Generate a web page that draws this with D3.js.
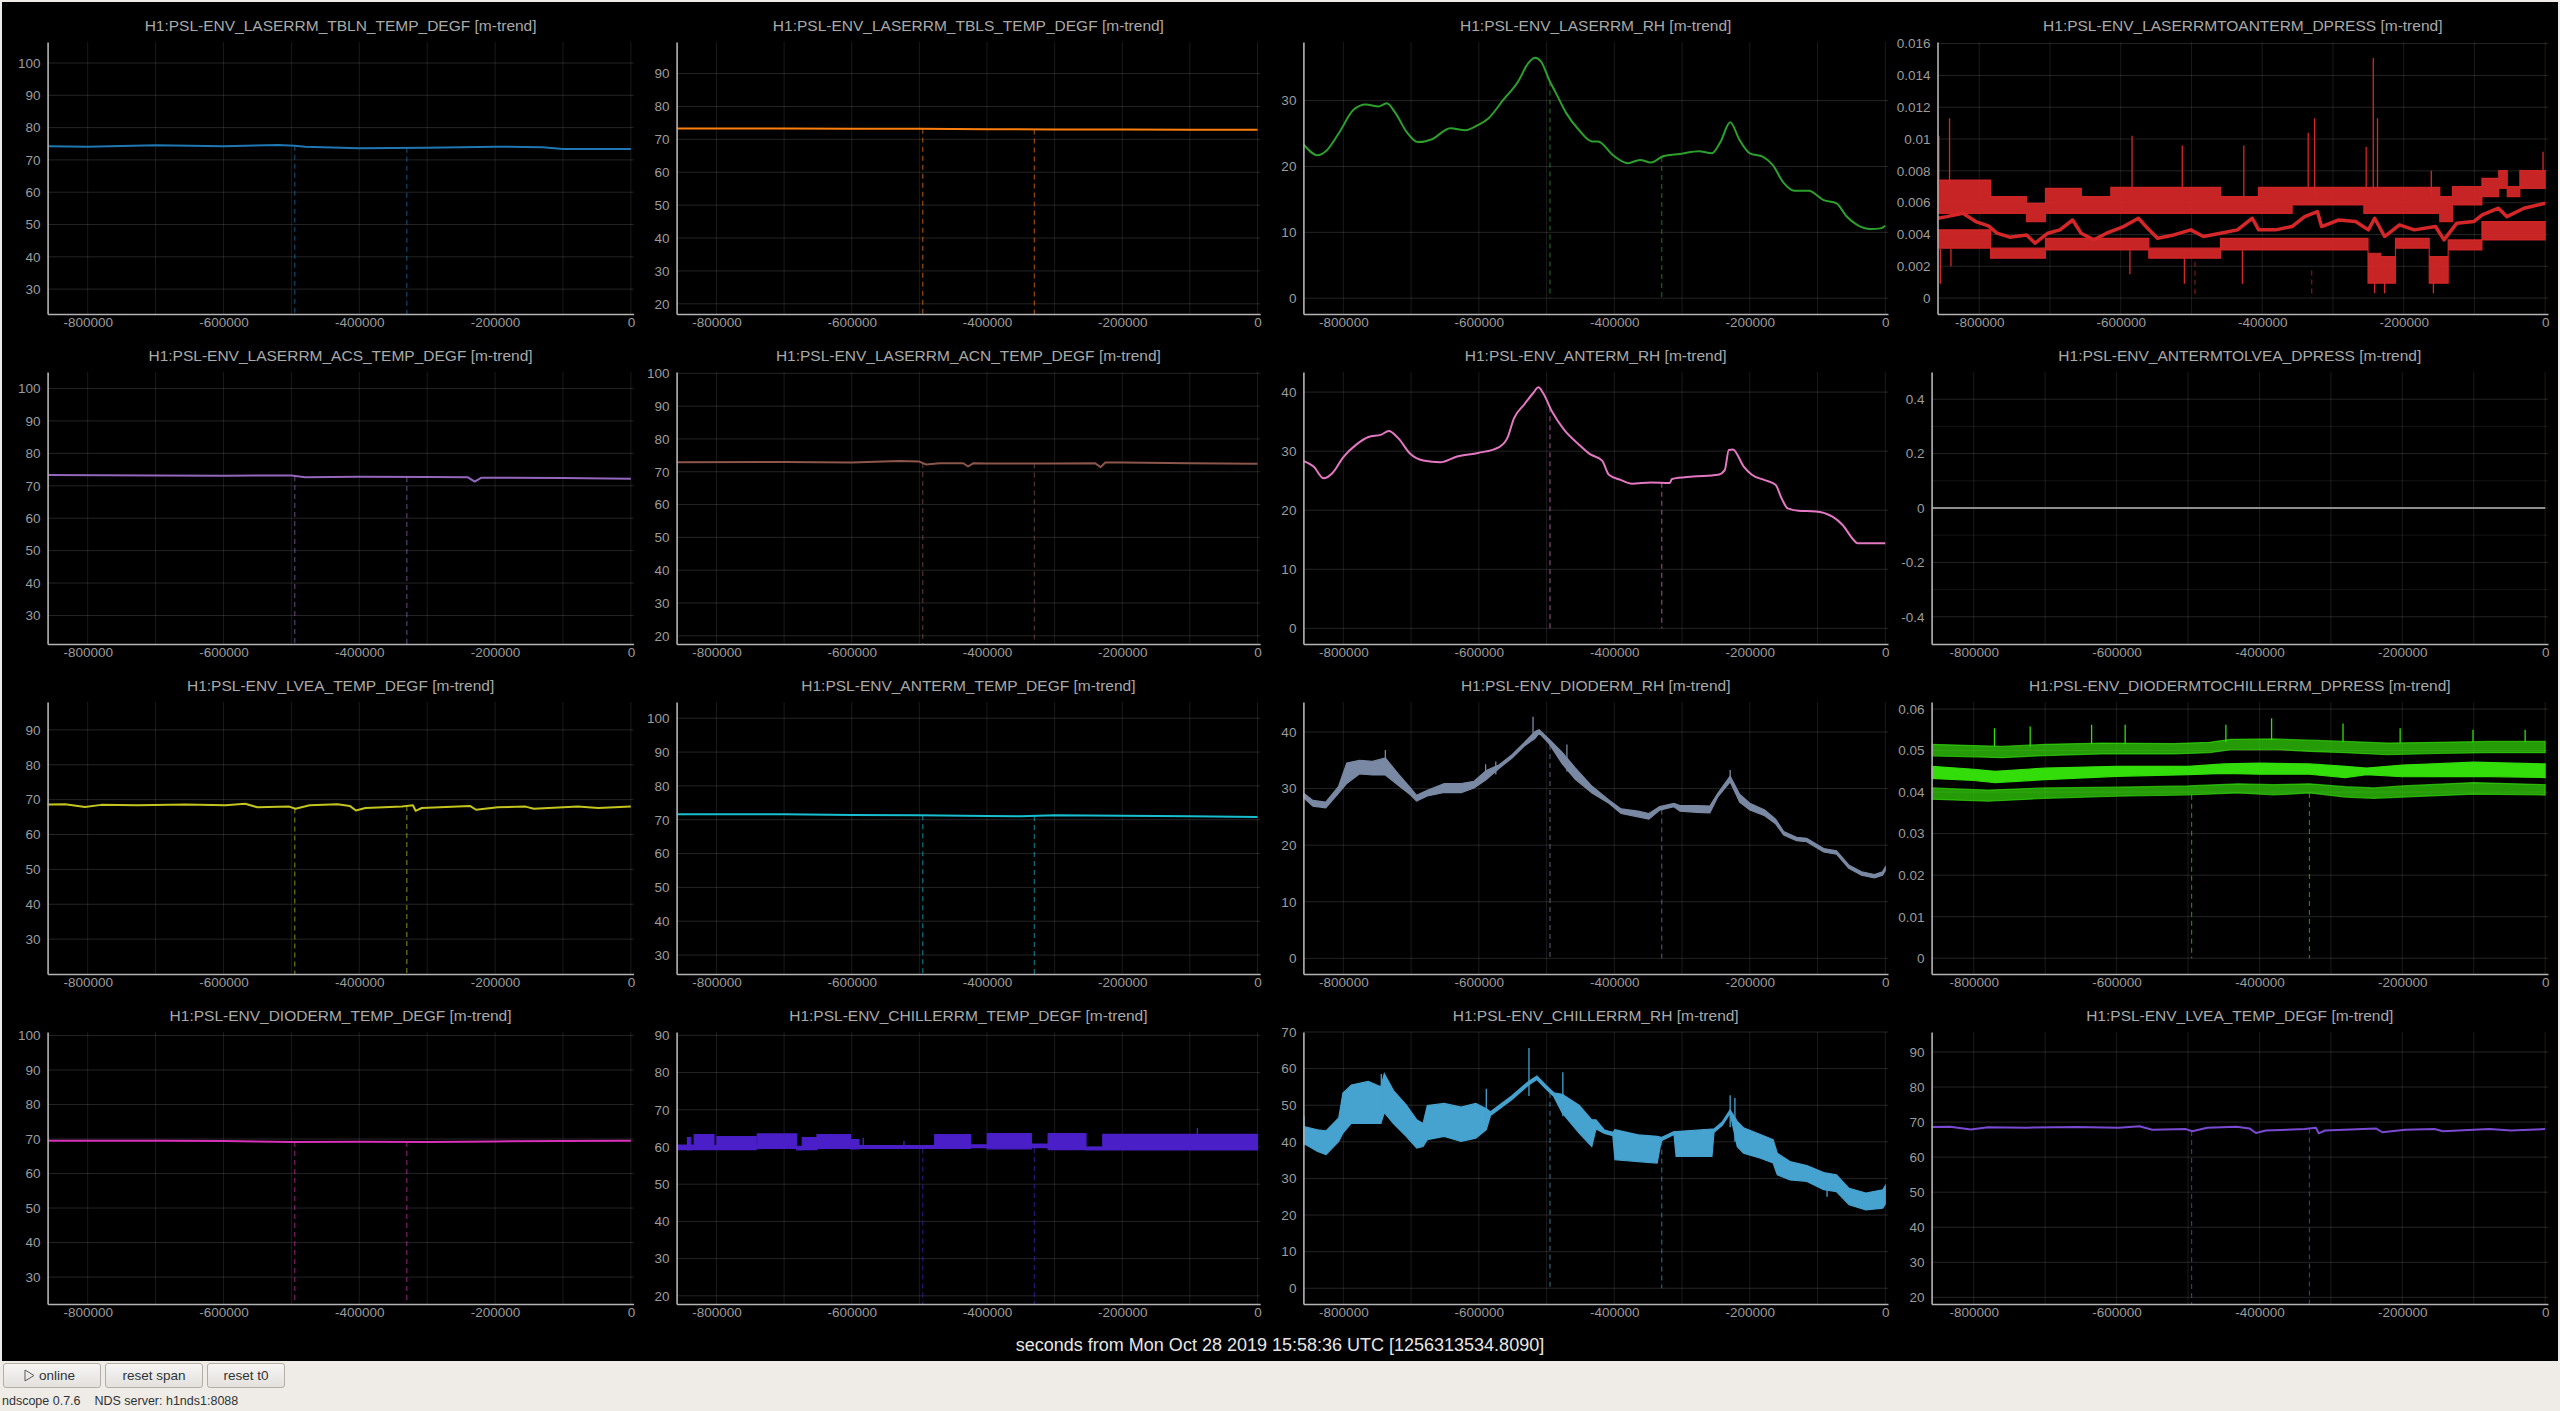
<!DOCTYPE html>
<html><head><meta charset="utf-8">
<script src="https://cdn.jsdelivr.net/npm/d3@7"></script>
<style>
html,body{margin:0;padding:0;background:#efebe7;overflow:hidden}
svg{display:block}
text{font-family:"Liberation Sans","DejaVu Sans",sans-serif}
</style></head><body>
<svg id="c" width="2560" height="1411"></svg>
<script>
// ---------------- DATA ----------------
const xDomain = [-859000, 4000];
const xTicks = [-800000, -600000, -400000, -200000, 0];
const xGridTicks = [-800000, -700000, -600000, -500000, -400000, -300000, -200000, -100000, 0];
const gapTimes = [-495000, -330000];
const axisLabel = "seconds from Mon Oct 28 2019 15:58:36 UTC [1256313534.8090]";

const ticks30to100 = [30, 40, 50, 60, 70, 80, 90, 100];
const ticks20to90 = [20, 30, 40, 50, 60, 70, 80, 90];
const ticks20to100 = [20, 30, 40, 50, 60, 70, 80, 90, 100];
const ticks30to90 = [30, 40, 50, 60, 70, 80, 90];
const ticks0to30 = [0, 10, 20, 30];
const ticks0to40 = [0, 10, 20, 30, 40];
const ticks0to70 = [0, 10, 20, 30, 40, 50, 60, 70];
const ticksRedDp = [0, 0.002, 0.004, 0.006, 0.008, 0.01, 0.012, 0.014, 0.016];
const ticksGreenDp = [0, 0.01, 0.02, 0.03, 0.04, 0.05, 0.06];
const ticksZero = [-0.4, -0.2, 0, 0.2, 0.4];
const ticksZeroMinor = [-0.3, -0.1, 0.1, 0.3];

// [t, value]
const tblnTemp = [[-859000,74.2],[-800000,74.1],[-700000,74.5],[-600000,74.2],[-520000,74.6],[-495000,74.4],[-480000,74.1],[-400000,73.6],[-300000,73.8],[-200000,74.1],[-130000,73.9],[-100000,73.4],[-50000,73.4],[0,73.4]];
const tblsTemp = [[-859000,73.3],[-700000,73.3],[-600000,73.2],[-500000,73.2],[-400000,73.1],[-300000,73.0],[-200000,73.0],[-100000,72.9],[0,72.9]];
const laserRH = [[-860000,23.5],[-838000,21.7],[-826000,22.3],[-807000,25.0],[-785000,28.6],[-767000,29.4],[-748000,29.1],[-736000,29.6],[-723000,28.1],[-707000,25.3],[-690000,23.7],[-670000,24.1],[-642000,25.8],[-620000,25.5],[-601000,26.3],[-586000,27.3],[-564000,30.1],[-542000,32.9],[-527000,35.7],[-517000,36.5],[-508000,35.9],[-496000,33.1],[-486000,31.1],[-471000,28.1],[-452000,25.5],[-433000,23.8],[-424000,23.8],[-402000,21.7],[-380000,20.5],[-362000,21.0],[-346000,20.6],[-327000,21.6],[-303000,21.9],[-275000,22.3],[-256000,22.0],[-243000,23.8],[-229000,26.7],[-215000,24.0],[-200000,22.0],[-181000,21.5],[-166000,20.2],[-150000,17.5],[-134000,16.3],[-113000,16.3],[-91000,14.9],[-72000,14.4],[-57000,12.4],[-41000,11.1],[-22000,10.5],[-7000,10.6],[0,11.0]];
const redDpMean = [[-858400,0.00502],[-846000,0.00512],[-823000,0.00533],[-805000,0.00481],[-787000,0.00454],[-775000,0.00408],[-757000,0.00383],[-733000,0.00397],[-721000,0.00345],[-703000,0.00408],[-686000,0.00429],[-668000,0.00491],[-656000,0.00408],[-638000,0.00366],[-620000,0.00408],[-596000,0.0045],[-575000,0.00502],[-560000,0.00429],[-548000,0.00376],[-525000,0.00397],[-501000,0.00429],[-483000,0.00387],[-459000,0.00408],[-435000,0.00429],[-414000,0.00502],[-405000,0.00429],[-381000,0.00429],[-358000,0.0045],[-340000,0.00512],[-322000,0.00544],[-316000,0.0045],[-292000,0.00491],[-268000,0.00481],[-250000,0.00429],[-241000,0.00502],[-227000,0.00387],[-206000,0.0046],[-185000,0.00429],[-155000,0.0045],[-143000,0.00366],[-125000,0.00471],[-101000,0.00481],[-89000,0.00523],[-66000,0.00565],[-54000,0.00512],[-30000,0.00565],[0,0.00596]];
// [t, low, high] quantised envelopes
const redDpMax = [[-858400,0.00533,0.00742],[-783900,0.00533,0.00638],[-733200,0.00481,0.00596],[-706400,0.00533,0.0069],[-655700,0.00533,0.00638],[-614000,0.00533,0.00696],[-459000,0.00533,0.00638],[-405300,0.00533,0.00696],[-357700,0.00586,0.00696],[-256300,0.00533,0.00696],[-149000,0.00481,0.00638],[-131100,0.00586,0.00701],[-89400,0.00638,0.00753],[-65600,0.0069,0.00801],[-53600,0.00638,0.00701],[-35800,0.0069,0.00801],[0,0.0069,0.00801]];
const redDpMin = [[-858400,0.00314,0.00429],[-783900,0.00251,0.00314],[-706400,0.00303,0.00376],[-560300,0.00251,0.00314],[-459000,0.00303,0.00376],[-250400,0.00094,0.00282],[-232500,0.00094,0.00261],[-211600,0.00314,0.00376],[-163900,0.00094,0.00261],[-137100,0.00303,0.00366],[-89400,0.00366,0.00481],[0,0.00366,0.00481]];
// [t, from, to]
const redDpSpikes = [[-857000,0.0074,0.0102],[-842000,0.0072,0.0113],[-584000,0.0069,0.0102],[-513000,0.0069,0.0096],[-426000,0.0064,0.0096],[-335000,0.0069,0.0104],[-326000,0.0065,0.0113],[-253000,0.0069,0.0095],[-243000,0.0069,0.0151],[-237000,0.0069,0.0113],[-161000,0.0065,0.008],[-3000,0.008,0.0092],
  [-855000,0.0031,0.0009],[-840000,0.0031,0.002],[-587000,0.003,0.0015],[-510000,0.0025,0.0009],[-428000,0.003,0.0009],[-241000,0.001,0.0003],[-227000,0.001,0.0003],[-158000,0.001,0.0003]];

const acsTemp = [[-859000,73.3],[-700000,73.2],[-600000,73.1],[-500000,73.2],[-480000,72.6],[-400000,72.8],[-300000,72.7],[-240000,72.6],[-230000,71.3],[-220000,72.5],[-100000,72.4],[0,72.2]];
const acnTemp = [[-859000,72.9],[-700000,73.0],[-600000,72.8],[-530000,73.3],[-500000,73.1],[-490000,72.2],[-470000,72.6],[-435000,72.6],[-428000,71.6],[-420000,72.6],[-400000,72.5],[-300000,72.5],[-240000,72.6],[-232000,71.4],[-225000,72.8],[-200000,72.8],[-100000,72.6],[0,72.4]];
const antermRH = [[-860000,28.4],[-844000,27.4],[-829000,25.4],[-816000,26.3],[-800000,29.0],[-781000,31.1],[-763000,32.4],[-744000,32.8],[-733000,33.4],[-719000,32.2],[-701000,29.5],[-682000,28.4],[-657000,28.1],[-632000,29.1],[-601000,29.7],[-570000,30.7],[-558000,32.2],[-548000,35.6],[-533000,37.9],[-520000,39.8],[-512000,40.8],[-505000,39.8],[-492000,36.7],[-474000,33.6],[-452000,31.1],[-436000,29.5],[-418000,28.4],[-408000,26.0],[-390000,25.1],[-374000,24.5],[-346000,24.7],[-318000,24.6],[-315000,25.3],[-284000,25.7],[-247000,26.0],[-237000,26.8],[-231000,30.2],[-225000,30.3],[-209000,27.4],[-197000,26.0],[-178000,25.1],[-162000,24.3],[-153000,22.0],[-144000,20.3],[-128000,19.9],[-103000,19.8],[-78000,18.9],[-63000,17.5],[-47000,15.0],[-41000,14.4],[0,14.4]];
const antermToLveaDp = [[-859000,0],[0,0]];

const lveaTemp = [[-860000,68.6],[-833000,68.7],[-804000,67.9],[-780000,68.5],[-727000,68.4],[-656000,68.6],[-597000,68.4],[-568000,68.8],[-550000,67.8],[-503000,68.0],[-494000,67.4],[-473000,68.4],[-432000,68.7],[-414000,68.2],[-405000,66.9],[-391000,67.6],[-337000,68.0],[-321000,68.4],[-317000,66.8],[-308000,67.6],[-237000,68.2],[-228000,67.1],[-196000,67.8],[-155000,68.0],[-143000,67.4],[-78000,68.0],[-48000,67.6],[0,68.0]];
const antermTemp = [[-859000,71.6],[-700000,71.6],[-600000,71.4],[-500000,71.3],[-400000,71.1],[-350000,71.0],[-300000,71.3],[-200000,71.2],[-100000,71.0],[0,70.8]];
const diodeRH = [[-860000,28.5,29.3],[-845000,26.9,27.9],[-826000,26.6,27.6],[-807000,29.2,30.4],[-795000,30.9,34.5],[-776000,32.6,35.0],[-757000,32.4,34.8],[-738000,32.4,35.4],[-719000,30.6,32.6],[-701000,28.9,30.1],[-692000,27.8,28.8],[-676000,28.7,29.7],[-651000,29.3,30.9],[-626000,29.3,30.9],[-607000,30.1,31.3],[-589000,31.6,33.2],[-570000,33.6,34.2],[-551000,35.4,36.0],[-533000,37.5,38.1],[-517000,38.9,40.1],[-511000,39.8,40.4],[-496000,37.9,38.7],[-477000,34.4,36.4],[-458000,31.7,33.7],[-433000,29.2,30.4],[-408000,27.4,28.0],[-390000,25.6,26.4],[-365000,25.0,26.0],[-349000,24.6,25.6],[-333000,26.2,26.8],[-312000,26.8,27.4],[-303000,26.0,27.0],[-278000,25.8,27.0],[-259000,25.7,26.9],[-247000,28.6,29.2],[-229000,31.2,32.2],[-215000,27.6,29.0],[-200000,26.2,27.4],[-178000,25.2,26.2],[-162000,23.8,24.6],[-150000,21.8,22.4],[-131000,20.8,21.4],[-116000,20.6,21.2],[-91000,18.8,19.4],[-72000,18.4,19.0],[-54000,15.9,16.5],[-35000,14.7,15.3],[-16000,14.2,14.8],[-4000,14.7,15.3],[0,15.5,16.1]];
const diodeRHSpikes = [[-520000,39.5,42.7],[-470000,33.0,37.8],[-738000,33.0,36.8],[-575000,32.5,34.8],[-590000,31.5,34.3],[-229000,31.0,33.3]];
const dpGreenMax = [[-859000,0.0487,0.0515],[-800000,0.0485,0.0512],[-760000,0.0483,0.051],[-700000,0.0488,0.0515],[-620000,0.0492,0.0518],[-520000,0.0492,0.0517],[-470000,0.0495,0.052],[-440000,0.0502,0.0527],[-380000,0.0503,0.0528],[-330000,0.0498,0.0525],[-280000,0.0495,0.0522],[-220000,0.049,0.0518],[-150000,0.0493,0.052],[-80000,0.0495,0.0522],[0,0.0495,0.0522]];
const dpGreenMean = [[-859000,0.0433,0.0462],[-800000,0.0428,0.0455],[-770000,0.0423,0.045],[-700000,0.043,0.0458],[-600000,0.0438,0.0462],[-500000,0.0442,0.0462],[-450000,0.0445,0.0468],[-400000,0.0443,0.047],[-330000,0.0443,0.0468],[-280000,0.0435,0.0462],[-250000,0.0442,0.0458],[-200000,0.0437,0.0465],[-100000,0.0438,0.0472],[0,0.0435,0.0468]];
const dpGreenMin = [[-859000,0.0383,0.041],[-780000,0.0378,0.0405],[-700000,0.0385,0.041],[-600000,0.039,0.0412],[-500000,0.0393,0.0415],[-430000,0.0398,0.042],[-380000,0.0393,0.0418],[-330000,0.0398,0.042],[-280000,0.0388,0.0413],[-240000,0.0385,0.041],[-200000,0.0388,0.0415],[-100000,0.0395,0.0423],[0,0.0393,0.0418]];
const dpGreenSpikes = [[-771000,0.051,0.0554],[-721000,0.051,0.0558],[-635000,0.0515,0.0562],[-588000,0.0515,0.0562],[-447000,0.052,0.0562],[-383000,0.0525,0.0578],[-283000,0.052,0.0565],[-203000,0.0518,0.0554],[-101000,0.052,0.055],[-28000,0.052,0.055]];

const diodeTemp = [[-859000,69.5],[-700000,69.5],[-600000,69.4],[-500000,69.1],[-400000,69.2],[-300000,69.1],[-200000,69.3],[-100000,69.4],[0,69.5]];
const chillerTemp = [[-858400,59.3,60.5],[-842900,59.2,62.5],[-838000,59.3,60.5],[-833000,59.3,63.3],[-803700,59.3,60.4],[-799400,59.3,62.8],[-741600,59.5,60.5],[-739700,59.6,63.5],[-681300,59.2,60.2],[-673200,59.3,62.5],[-651400,59.6,63.3],[-601700,59.5,62.0],[-589300,59.6,60.4],[-477400,59.6,63.3],[-424600,59.8,60.6],[-399700,59.5,63.6],[-334400,59.8,60.8],[-309600,59.3,63.6],[-253600,59.2,60.0],[-228800,59.2,63.4],[0,59.2,63.4]];
const chillerTempSpikes = [[-583000,60.2,62.5],[-522800,60.2,61.6],[-88900,62.0,65.1]];
const chillerRH = [[-859800,39.7,44.2],[-838000,37.4,43.3],[-825600,36.5,43.0],[-806900,40.1,46.5],[-800600,42.4,53.3],[-788200,45.1,55.5],[-763300,45.0,56.5],[-744600,45.0,55.0],[-739600,48.0,58.6],[-726000,45.0,54.0],[-707300,41.5,50.1],[-691700,38.3,46.0],[-682400,38.7,45.0],[-676100,40.6,49.9],[-651200,41.5,50.5],[-626300,40.1,49.5],[-604500,41.0,50.5],[-589000,43.3,49.0],[-582800,47.2,48.2],[-551600,51.5,52.5],[-526700,55.5,56.5],[-514300,57.0,58.0],[-501800,54.6,55.6],[-489400,52.4,53.4],[-476900,47.9,53.0],[-452000,42.4,50.0],[-433300,38.7,46.0],[-427100,43.5,46.0],[-414600,42.3,43.2],[-402200,41.7,42.6],[-399100,35.1,43.3],[-364800,34.6,41.9],[-336800,34.2,41.5],[-330600,40.3,41.2],[-311900,42.0,42.8],[-308800,36.0,42.8],[-255900,36.0,43.5],[-252800,42.6,43.5],[-240300,44.6,45.5],[-229100,47.8,48.7],[-218500,38.7,45.6],[-209200,36.9,43.8],[-184300,35.5,42.0],[-165600,34.2,40.6],[-159400,31.0,36.9],[-140700,29.6,34.6],[-115800,29.2,33.5],[-90900,26.9,31.6],[-72200,26.4,31.0],[-53500,22.8,27.3],[-28600,21.4,26.0],[-3700,21.9,26.9],[0,23.0,28.0]];
const chillerRHSpikes = [[-526000,52.5,65.6],[-476000,47.0,59.0],[-744000,48.0,58.5],[-800000,44.0,53.5],[-589000,44.0,54.5],[-229000,44.0,52.7],[-222000,40.0,52.0],[-858000,39.0,47.0],[-86000,25.0,31.5]];

// ---------------- PANELS ----------------
const fmtNum = d => d === 0 ? "0" : String(+d.toFixed(4));
const panels = [
  {title:"H1:PSL-ENV_LASERRM_TBLN_TEMP_DEGF [m-trend]", color:"#1f77b4", domain:[22.3,106.5], ticks:ticks30to100, lines:[tblnTemp]},
  {title:"H1:PSL-ENV_LASERRM_TBLS_TEMP_DEGF [m-trend]", color:"#ff7f0e", domain:[16.9,99.6], ticks:ticks20to90, lines:[tblsTemp]},
  {title:"H1:PSL-ENV_LASERRM_RH [m-trend]", color:"#2ca02c", domain:[-2.4,38.9], ticks:ticks0to30, lines:[laserRH], smooth:true},
  {title:"H1:PSL-ENV_LASERRMTOANTERM_DPRESS [m-trend]", color:"#d62728", domain:[-0.001,0.0161], ticks:ticksRedDp, left:1937.5,
    bands:[{d:redDpMax,step:true,op:0.93},{d:redDpMin,step:true,op:0.93}], spikes:redDpSpikes, lines:[redDpMean], lw:3.5, gapFrom:redDpMin},
  {title:"H1:PSL-ENV_LASERRM_ACS_TEMP_DEGF [m-trend]", color:"#9467bd", domain:[21.2,105.1], ticks:ticks30to100, lines:[acsTemp]},
  {title:"H1:PSL-ENV_LASERRM_ACN_TEMP_DEGF [m-trend]", color:"#8c564b", domain:[17.5,100.4], ticks:ticks20to100, lines:[acnTemp]},
  {title:"H1:PSL-ENV_ANTERM_RH [m-trend]", color:"#e377c2", domain:[-2.65,43.4], ticks:ticks0to40, lines:[antermRH], smooth:true},
  {title:"H1:PSL-ENV_ANTERMTOLVEA_DPRESS [m-trend]", color:"#8e8e8e", domain:[-0.5,0.5], ticks:ticksZero, minor:ticksZeroMinor, lines:[antermToLveaDp]},
  {title:"H1:PSL-ENV_LVEA_TEMP_DEGF [m-trend]", color:"#c4c41f", domain:[20,98], ticks:ticks30to90, lines:[lveaTemp]},
  {title:"H1:PSL-ENV_ANTERM_TEMP_DEGF [m-trend]", color:"#17becf", domain:[24.4,104.8], ticks:ticks30to100, lines:[antermTemp]},
  {title:"H1:PSL-ENV_DIODERM_RH [m-trend]", color:"#7a89a3", domain:[-2.77,45.3], ticks:ticks0to40, bands:[{d:diodeRH,op:1}], spikes:diodeRHSpikes, gapFrom:diodeRH},
  {title:"H1:PSL-ENV_DIODERMTOCHILLERRM_DPRESS [m-trend]", color:"#33dd0a", domain:[-0.0038,0.0617], ticks:ticksGreenDp,
    bands:[{d:dpGreenMax,op:0.7},{d:dpGreenMin,op:0.7},{d:dpGreenMean,op:1}], spikes:dpGreenSpikes, gapFrom:dpGreenMin},
  {title:"H1:PSL-ENV_DIODERM_TEMP_DEGF [m-trend]", color:"#d830b8", domain:[22.2,101], ticks:ticks30to100, lines:[diodeTemp]},
  {title:"H1:PSL-ENV_CHILLERRM_TEMP_DEGF [m-trend]", color:"#4a1fc8", domain:[17.8,90.9], ticks:ticks20to90, bands:[{d:chillerTemp,step:true,op:1}], spikes:chillerTempSpikes, gapFrom:chillerTemp},
  {title:"H1:PSL-ENV_CHILLERRM_RH [m-trend]", color:"#46a2cf", domain:[-4.3,70], ticks:ticks0to70, bands:[{d:chillerRH,op:1}], spikes:chillerRHSpikes, gapFrom:chillerRH},
  {title:"H1:PSL-ENV_LVEA_TEMP_DEGF [m-trend]", color:"#7a4ad2", domain:[18.1,95.7], ticks:ticks20to90, lines:[lveaTemp]}
];

// ---------------- DRAW ----------------
const svg = d3.select("#c");
const defs = svg.append("defs");
svg.append("rect").attr("x",2).attr("y",2).attr("width",2556).attr("height",1359).attr("fill","#000");

const rowTop = [42, 372, 702, 1032], plotH = 272;
const colLeft = [47.6, 676.6, 1303.4, 1931.6], colRight = [633.6, 1260.2, 1888, 2548];

function valueAt(arr, t) {
  const i = d3.bisector(d => d[0]).left(arr, t);
  if (i <= 0) return arr[0][1];
  if (i >= arr.length) return arr[arr.length-1][1];
  const a = arr[i-1], b = arr[i];
  return a[1] + (b[1]-a[1]) * (t-a[0]) / (b[0]-a[0]);
}

panels.forEach((p, i) => {
  const r = Math.floor(i/4), c = i % 4;
  const L = p.left || colLeft[c], R = colRight[c], T = rowTop[r], B = T + plotH;
  const x = d3.scaleLinear().domain(xDomain).range([L, R]);
  const y = d3.scaleLinear().domain(p.domain).range([B, T]);
  const cid = "clip" + i;
  defs.append("clipPath").attr("id", cid).append("rect")
    .attr("x", L).attr("y", T).attr("width", R-L).attr("height", B-T);
  const g = svg.append("g");

  // grid
  const grid = g.append("g");
  grid.selectAll(".vg").data(xGridTicks).join("line")
    .attr("x1", d => x(d)).attr("x2", d => x(d)).attr("y1", T).attr("y2", B)
    .attr("stroke", "#fff").attr("stroke-opacity", 0.1).attr("stroke-width", 1);
  grid.selectAll(".hg").data(p.ticks).join("line")
    .attr("x1", L).attr("x2", R).attr("y1", d => y(d)).attr("y2", d => y(d))
    .attr("stroke", "#fff").attr("stroke-opacity", 0.14).attr("stroke-width", 1);
  if (p.minor) grid.selectAll(".mg").data(p.minor).join("line")
    .attr("x1", L).attr("x2", R).attr("y1", d => y(d)).attr("y2", d => y(d))
    .attr("stroke", "#fff").attr("stroke-opacity", 0.08).attr("stroke-width", 1);

  const dg = g.append("g").attr("clip-path", `url(#${cid})`);

  // gap connectors (dashed)
  const gapSrc = p.gapFrom || (p.lines && p.lines[0]);
  if (gapSrc) {
    dg.selectAll(".gap").data(gapTimes).join("line")
      .attr("x1", d => x(d)).attr("x2", d => x(d))
      .attr("y1", d => y(valueAt(gapSrc, d))).attr("y2", y(0))
      .attr("stroke", p.color).attr("stroke-opacity", 0.6).attr("stroke-width", 1.2)
      .attr("stroke-dasharray", "5,4");
  }

  // bands (min/max envelopes)
  (p.bands || []).forEach(b => {
    const area = d3.area().x(d => x(d[0])).y0(d => y(d[1])).y1(d => y(d[2]))
      .curve(b.step ? d3.curveStepAfter : d3.curveLinear);
    dg.append("path").datum(b.d).attr("d", area)
      .attr("fill", p.color).attr("fill-opacity", b.op)
      .attr("stroke", p.color).attr("stroke-opacity", b.op).attr("stroke-width", 1.2);
  });
  // spikes
  if (p.spikes) dg.selectAll(".sp").data(p.spikes).join("line")
    .attr("x1", d => x(d[0])).attr("x2", d => x(d[0]))
    .attr("y1", d => y(d[1])).attr("y2", d => y(d[2]))
    .attr("stroke", p.color).attr("stroke-width", 1.3);
  // lines
  (p.lines || []).forEach(l => {
    const line = d3.line().x(d => x(d[0])).y(d => y(d[1]))
      .curve(p.smooth ? d3.curveMonotoneX : d3.curveLinear);
    dg.append("path").datum(l).attr("d", line).attr("fill", "none")
      .attr("stroke", p.color).attr("stroke-width", p.lw || 2).attr("stroke-linejoin", "round");
  });

  // axes
  const ay = g.append("g").attr("transform", `translate(${L},0)`)
    .call(d3.axisLeft(y).tickValues(p.ticks).tickFormat(fmtNum).tickSizeInner(0).tickSizeOuter(0).tickPadding(7));
  const ax = g.append("g").attr("transform", `translate(0,${B})`)
    .call(d3.axisBottom(x).tickValues(xTicks).tickFormat(d => String(d)).tickSizeInner(0).tickSizeOuter(0).tickPadding(3));
  [ax, ay].forEach(a => {
    a.select(".domain").attr("stroke", "#b4b4b4").attr("stroke-width", 1.6);
    a.selectAll("text").attr("fill", "#9c9c9c").style("font-size", "13.5px")
      .style("font-family", '"Liberation Sans","DejaVu Sans",sans-serif');
  });

  // title
  g.append("text").attr("x", (L+R)/2).attr("y", T - 15).attr("text-anchor", "middle")
    .attr("dominant-baseline", "middle").attr("fill", "#a9a9a9").style("font-size", "15.5px").text(p.title);
});

// bottom axis label
svg.append("text").attr("x", 1280).attr("y", 1346).attr("text-anchor", "middle")
  .attr("dominant-baseline", "middle").attr("fill", "#e6e6e6").style("font-size", "18px").text(axisLabel);

// control bar
const buttons = [{label:"online", x:3, w:97, icon:true}, {label:"reset span", x:105, w:97}, {label:"reset t0", x:207, w:77}];
const grad = defs.append("linearGradient").attr("id","btn").attr("x1",0).attr("y1",0).attr("x2",0).attr("y2",1);
grad.append("stop").attr("offset","0%").attr("stop-color","#f7f6f5");
grad.append("stop").attr("offset","100%").attr("stop-color","#e3e0dc");
buttons.forEach(b => {
  const bg = svg.append("g");
  bg.append("rect").attr("x", b.x+0.5).attr("y", 1363.5).attr("width", b.w).attr("height", 24).attr("rx", 2.5)
    .attr("fill", "url(#btn)").attr("stroke", "#b3aea6");
  if (b.icon) {
    bg.append("path").attr("d", `M${b.x+22},1370 L${b.x+31},1375.5 L${b.x+22},1381 Z`)
      .attr("fill", "none").attr("stroke", "#5b5b5b").attr("stroke-width", 1);
    bg.append("text").attr("x", b.x+36).attr("y", 1376).attr("dominant-baseline", "middle")
      .attr("fill", "#2e3436").style("font-size", "13.5px").text(b.label);
  } else {
    bg.append("text").attr("x", b.x + b.w/2 + 0.5).attr("y", 1376).attr("text-anchor", "middle")
      .attr("dominant-baseline", "middle").attr("fill", "#2e3436").style("font-size", "13.5px").text(b.label);
  }
});
svg.append("text").attr("x", 2).attr("y", 1402).attr("dominant-baseline", "middle")
  .attr("fill", "#2e3436").style("font-size", "12.5px").attr("xml:space","preserve")
  .text("ndscope 0.7.6    NDS server: h1nds1:8088");
</script></body></html>
